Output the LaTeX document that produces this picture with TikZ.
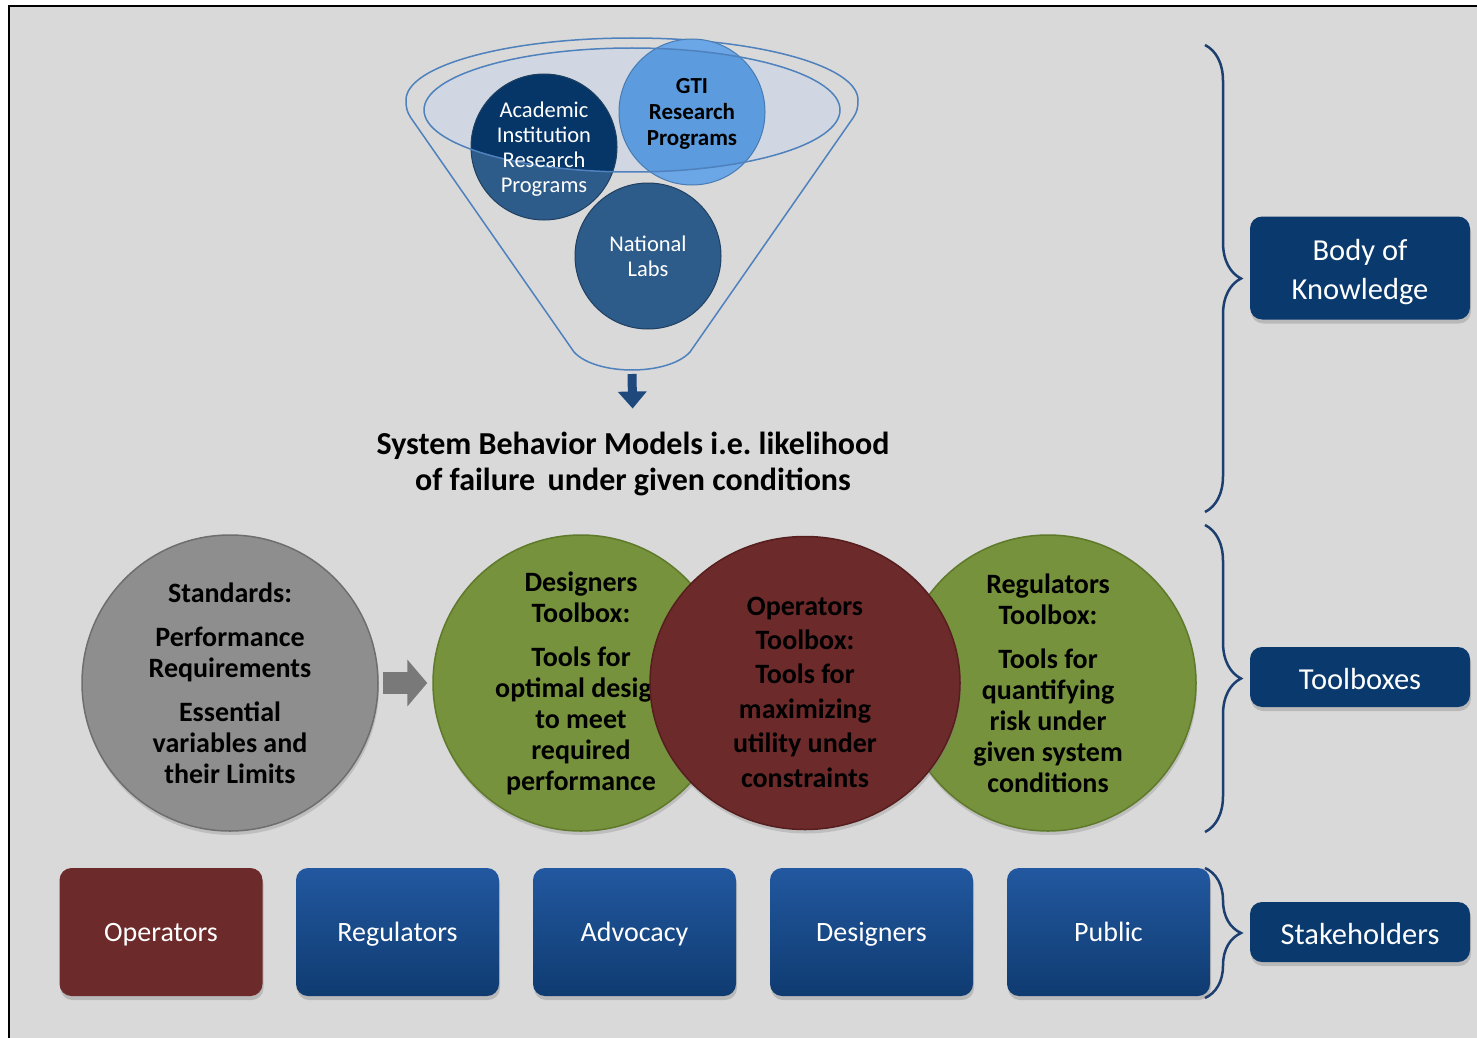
\documentclass[tikz,border=0pt]{standalone}
\usepackage{fontspec}
\setmainfont{Carlito}
\usetikzlibrary{calc,shadows,arrows.meta,shapes.geometric,decorations.pathreplacing}

\definecolor{bgGray}{HTML}{D9D9D9}
\definecolor{navy}{HTML}{0A3A6D}
\definecolor{funnelBlue}{HTML}{4F81BD}
\definecolor{funnelFill}{HTML}{D0D7E2}
\definecolor{steelBlue}{HTML}{2E5C8A}
\definecolor{deepBlue}{HTML}{063668}
\definecolor{skyBlue}{HTML}{5B9BDE}
\definecolor{skyBlueLow}{HTML}{6BA6E6}
\definecolor{arrowBlue}{HTML}{1F497D}
\definecolor{oliveGreen}{HTML}{76923C}
\definecolor{oliveRim}{HTML}{5E7A2A}
\definecolor{darkRed}{HTML}{6D2A2A}
\definecolor{darkRedRim}{HTML}{561E1E}
\definecolor{midGray}{HTML}{8E8E8E}
\definecolor{grayRim}{HTML}{6E6E6E}
\definecolor{boxTop}{HTML}{2258A0}
\definecolor{boxBottom}{HTML}{0F3B70}
\definecolor{braceBlue}{HTML}{1C3F70}

\tikzset{
	blob/.style={circle, minimum size=146pt, inner sep=0pt, align=center,
		font=\fontsize{22.5}{25}\selectfont, text=white},
	bigblob/.style={circle, minimum size=296pt, inner sep=0pt, align=center,
		font=\bfseries\fontsize{28}{31}\selectfont, line width=1.5pt,
		drop shadow={opacity=0.3, shadow xshift=1pt, shadow yshift=-4pt}},
	stakebox/.style={rectangle, rounded corners=12pt, minimum width=203pt, minimum height=128pt,
		text=white, font=\fontsize{28}{32}\selectfont, text height=19pt, text depth=0pt,
		drop shadow={opacity=0.35, shadow xshift=1pt, shadow yshift=-4pt}},
	labelbox/.style={rectangle, rounded corners=12pt, fill=navy, minimum width=220pt,
		drop shadow={opacity=0.35, shadow xshift=1pt, shadow yshift=-4pt}},
	labeltext/.style={text=white, align=center, font=\fontsize{30.5}{39}\selectfont},
	bracket/.style={decorate, decoration={brace, amplitude=36pt}, draw=braceBlue, line width=2.5pt},
}

\begin{document}
\begin{tikzpicture}[x=1pt, y=-1pt]
			%%%%% FRAME %%%%%
			\useasboundingbox (0,0) rectangle (1477,1038);
			\fill[white] (0,0) rectangle (1477,1038);
			\fill[bgGray] (9,6) rectangle (1477,1038);
			\draw[black, line width=2pt] (9,1038) -- (9,6) -- (1477,6);
			
			%%%%% FUNNEL %%%%%
			\draw[funnelBlue, line width=1.5pt] (406,100)
				arc[start angle=180, end angle=360, x radius=226, y radius=62]
				.. controls (858,108) and (857,112) .. (853,118) -- (690,352)
				.. controls (668,376) and (596,376) .. (574,352) -- (411,118)
				.. controls (407,112) and (406,108) .. (406,100);
			\fill[funnelFill] (632,110) ellipse (208 and 62);
			
			\fill[steelBlue] (544,147) circle (73);
			\fill[skyBlueLow] (692,112) circle (73);
			\begin{scope}
				\clip (632,110) ellipse (208 and 62);
				\fill[deepBlue] (544,147) circle (73);
				\fill[skyBlue] (692,112) circle (73);
			\end{scope}
			\draw[steelBlue!70!black, line width=1pt] (544,147) circle (73);
			\draw[skyBlue!80!black, line width=1pt] (692,112) circle (73);
			\draw[funnelBlue, line width=1.5pt] (632,110) ellipse (208 and 62);
			
			\node[blob] (academic) at (544,149) {Academic\\Institution\\Research\\Programs};
			\node[blob, text=black, font=\bfseries\fontsize{23}{26}\selectfont] (gti) at (692,114) {GTI\\Research\\Programs};
			\node[blob, fill=steelBlue, draw=steelBlue!70!black, line width=1pt] (labs) at (648,256) {National\\Labs};
			
			\coordinate (funnelTip) at (632,374);
			\node[align=center, font=\bfseries\fontsize{32}{36}\selectfont] (models) at (633,464)
				{System Behavior Models i.e.\ likelihood\\of failure\, under given conditions};
			\draw[arrowBlue, line width=9pt, -{Triangle[width=28pt,length=17pt]}, shorten >=20pt]
				(funnelTip) -- (models.north);
			
			%%%%% TOOLBOXES %%%%%
			\node[bigblob, fill=midGray, draw=grayRim] (standards) at (230,683)
				{Standards:\\[13pt]Performance\\Requirements\\[13pt]Essential\\variables and\\their Limits};
			\node[bigblob, fill=oliveGreen, draw=oliveRim] (designers) at (581,683)
				{Designers\\Toolbox:\\[13pt]Tools for\\optimal design\\to meet\\required\\performance};
			\node[bigblob, fill=oliveGreen, draw=oliveRim] (regulators) at (1048,683)
				{Regulators\\Toolbox:\\[13pt]Tools for\\quantifying\\risk under\\given system\\conditions};
			\node[bigblob, ellipse, minimum width=310pt, minimum height=293pt, fill=darkRed, draw=darkRedRim] (operators) at (805,683) {};
			\node[align=center, font=\bfseries\fontsize{28}{34.4}\selectfont] (opText) at ([yshift=-9pt]operators.center)
				{Operators\\Toolbox:\\Tools for\\maximizing\\utility under\\constraints};
			
			\draw[midGray!85!black, line width=22pt, -{Triangle[width=46pt,length=20pt]}]
				([xshift=4pt]standards.east) -- ([xshift=-5pt]designers.west);
			
			%%%%% STAKEHOLDERS %%%%%
			\node[stakebox, fill=darkRed] (opBox) at (161,932) {Operators};
			\node[stakebox, top color=boxTop, bottom color=boxBottom] (regBox) at (397.5,932) {Regulators};
			\node[stakebox, top color=boxTop, bottom color=boxBottom] (advBox) at (634.5,932) {Advocacy};
			\node[stakebox, top color=boxTop, bottom color=boxBottom] (desBox) at (871.5,932) {Designers};
			\node[stakebox, top color=boxTop, bottom color=boxBottom] (pubBox) at (1108.5,932) {Public};
			
			%%%%% RIGHT LABELS %%%%%
			\node[labelbox, minimum height=103pt] (bok) at (1360,268) {};
			\node[labelbox, minimum height=60pt] (tools) at (1360,677) {};
			\node[labelbox, minimum height=60pt] (stake) at (1360,932) {};
			\node[labeltext] (bokText) at ([yshift=-4pt]bok.center) {Body of\\Knowledge};
			\node[labeltext] (toolsText) at ([yshift=-2pt]tools.center) {Toolboxes};
			\node[labeltext] (stakeText) at ([yshift=-2pt]stake.center) {Stakeholders};
			
			\coordinate (bokTop) at (1205,45);
			\coordinate (bokBot) at (1205,512);
			\coordinate (toolTop) at (1205,525);
			\coordinate (toolBot) at (1205,832);
			\coordinate (stakeTop) at (1205,868);
			\coordinate (stakeBot) at (1205,998);
			\draw[bracket] (bokTop) -- (bokBot);
			\draw[bracket] (toolTop) -- (toolBot);
			\draw[bracket] (stakeTop) -- (stakeBot);
			
			%%%%% END %%%%%
\end{tikzpicture}
\end{document}
